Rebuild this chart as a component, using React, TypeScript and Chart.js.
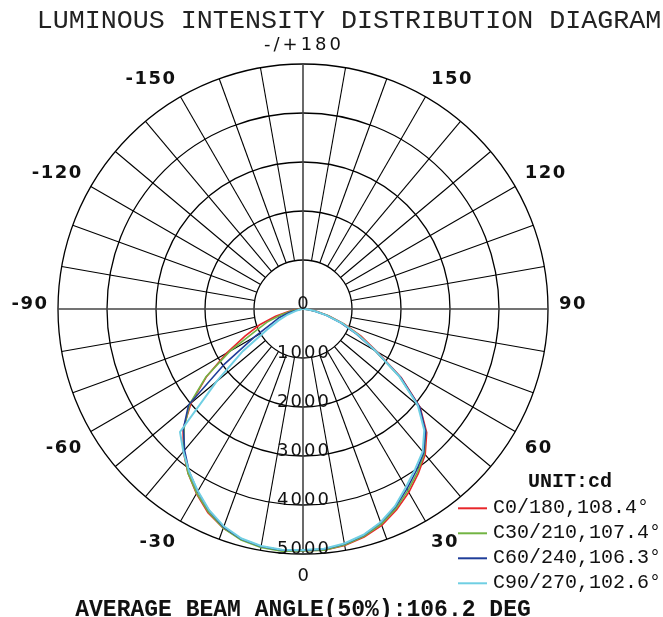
import React, { useEffect, useRef } from 'react';
import { Chart, registerables } from 'chart.js';

Chart.register(...registerables);

// gamma angles of each half plane (degrees from nadir)
const halfAngles = [0, 5, 10, 15, 20, 25, 30, 35, 40, 45, 50, 55, 60, 65, 70, 75, 80, 85, 90];

// intensities (cd): right side = C0/C30/C60/C90, left side = C180/C210/C240/C270
const c0Right = [4930, 4940, 4900, 4820, 4700, 4520, 4320, 4100, 3880, 3570, 3120, 2450, 1750, 1300, 900, 550, 280, 100, 0];
const c180Left = [4930, 4940, 4920, 4860, 4760, 4590, 4350, 4090, 3800, 3460, 2980, 2400, 1800, 1300, 940, 580, 300, 130, 0];
const c30Right = [4940, 4940, 4890, 4800, 4670, 4490, 4280, 4070, 3850, 3540, 3080, 2400, 1700, 1250, 870, 520, 260, 90, 0];
const c210Left = [4950, 4960, 4940, 4880, 4760, 4570, 4340, 4090, 3790, 3430, 3020, 2420, 1720, 1080, 780, 470, 220, 80, 0];
const c60Right = [4930, 4920, 4870, 4780, 4640, 4460, 4240, 4030, 3830, 3540, 3110, 2430, 1700, 1200, 820, 480, 230, 80, 0];
const c240Left = [4930, 4940, 4920, 4860, 4740, 4540, 4300, 4050, 3760, 3450, 3050, 1950, 1150, 700, 520, 300, 120, 40, 0];
const c90Right = [4920, 4910, 4860, 4770, 4630, 4440, 4200, 3990, 3800, 3500, 3060, 2400, 1720, 1230, 850, 500, 240, 80, 0];
const c270Left = [4920, 4930, 4910, 4850, 4720, 4530, 4290, 4050, 3800, 3550, 2300, 1500, 850, 550, 330, 150, 60, 20, 0];

const seriesNames = ['C0/180,108.4°', 'C30/210,107.4°', 'C60/240,106.3°', 'C90/270,102.6°'];
const seriesColors = ['#e8262a', '#72b443', '#1f3d99', '#6fcfe3'];
const seriesRight = [c0Right, c30Right, c60Right, c90Right];
const seriesLeft = [c180Left, c210Left, c240Left, c270Left];

const ringTicks = [0, 1000, 2000, 3000, 4000, 5000];
const angleTickValues = [0, 30, 60, 90, 120, 150, 180, -150, -120, -90, -60, -30];
const angleTickLabels = ['0', '30', '60', '90', '120', '150', '-/+180', '-150', '-120', '-90', '-60', '-30'];

const titleText = 'LUMINOUS INTENSITY DISTRIBUTION DIAGRAM';
const unitText = 'UNIT:cd';
const footerText = 'AVERAGE BEAM ANGLE(50%):106.2 DEG';

// radar categories in drawing order: 0 at bottom, clockwise to -90 (left), 180 (top), 90 (right)
const radarAngles: number[] = Array.from({ length: 72 }, (_, i) => (i < 36 ? -5 * i : 360 - 5 * i));

function valueAt(right: number[], left: number[], g: number): number {
  const idx = halfAngles.indexOf(Math.abs(g));
  if (idx < 0) return 0;
  return g >= 0 ? right[idx] : left[idx];
}

const polarDecor = {
  id: 'polarDecor',
  beforeDatasetsDraw(chart: any) {
    const s = chart.scales.r;
    const ctx = chart.ctx;
    ctx.save();
    radarAngles.forEach((g, i) => {
      if (g % 10 !== 0) return;
      const axis = g % 90 === 0;
      const a = s.getPointPositionForValue(i, axis ? 0 : ringTicks[1]);
      const b = s.getPointPositionForValue(i, s.max);
      ctx.beginPath();
      ctx.moveTo(a.x, a.y);
      ctx.lineTo(b.x, b.y);
      ctx.lineWidth = axis ? 1.6 : 1.1;
      ctx.strokeStyle = axis ? '#444' : '#000';
      ctx.stroke();
    });
    ctx.restore();
  },
  afterDatasetsDraw(chart: any) {
    const s = chart.scales.r;
    const ctx = chart.ctx;
    ctx.save();
    ctx.fillStyle = '#111';

    // ring labels along the nadir axis
    ctx.font = '18px "DejaVu Sans"';
    (ctx as any).letterSpacing = '2px';
    ctx.textAlign = 'center';
    ctx.textBaseline = 'alphabetic';
    ringTicks.forEach((v) => {
      const p = s.getPointPositionForValue(0, v);
      ctx.fillText(String(v), p.x + 1, p.y);
    });

    // angle labels outside the outer ring
    angleTickValues.forEach((g, k) => {
      const i = radarAngles.indexOf(g);
      if (i < 0) return;
      const p = s.getPointPosition(i, s.drawingArea + 11);
      let deg = Math.round((s.getIndexAngle(i) * 180) / Math.PI) % 360;
      if (deg < 0) deg += 360;
      const label = angleTickLabels[k];
      const plain = label === '0' || label === '-/+180';
      ctx.font = plain ? '18px "DejaVu Sans"' : 'bold 18px "DejaVu Sans"';
      (ctx as any).letterSpacing = label === '-/+180' ? '3px' : '1.5px';
      let x = p.x;
      let y = p.y;
      if (deg === 0 || deg === 180) {
        ctx.textAlign = 'center';
        x += 1;
      } else if (deg < 180) {
        ctx.textAlign = 'left';
      } else {
        ctx.textAlign = 'right';
        x += 1.5;
      }
      if (deg === 90 || deg === 270) {
        y = p.y;
      } else if (deg > 270 || deg < 90) {
        y = p.y - 3;
      } else {
        y = p.y + 16;
      }
      ctx.textBaseline = 'alphabetic';
      ctx.fillText(label, x, y);
    });

    (ctx as any).letterSpacing = '0px';
    // title
    ctx.fillStyle = '#222';
    ctx.font = '26.7px "Liberation Mono"';
    ctx.textAlign = 'center';
    ctx.fillText(titleText, 349, 28);

    // footer
    ctx.fillStyle = '#111';
    ctx.font = 'bold 23px "Liberation Mono"';
    ctx.textAlign = 'center';
    ctx.fillText(footerText, s.xCenter, 615.5);

    // legend
    ctx.textAlign = 'left';
    ctx.font = 'bold 20px "Liberation Mono"';
    ctx.fillText(unitText, 528, 486.5);
    ctx.font = '20px "Liberation Mono"';
    seriesNames.forEach((name, k) => {
      const yy = 508.3 + k * 25;
      ctx.beginPath();
      ctx.moveTo(458, yy);
      ctx.lineTo(487, yy);
      ctx.lineWidth = 2;
      ctx.strokeStyle = seriesColors[k];
      ctx.stroke();
      ctx.fillStyle = '#111';
      ctx.fillText(name, 493, yy + 4.5);
    });
    ctx.restore();
  },
};

export default function App() {
  const ref = useRef<HTMLCanvasElement>(null);
  useEffect(() => {
    if (!ref.current) return;
    const datasets = seriesNames.map((name, k) => ({
      label: name,
      data: radarAngles.map((g) => valueAt(seriesRight[k], seriesLeft[k], g)),
      borderColor: seriesColors[k],
      backgroundColor: seriesColors[k],
      borderWidth: k === 3 ? 2 : 1.6,
      fill: false,
      pointRadius: 0,
      tension: 0,
      order: 3 - k,
    }));
    const chart = new Chart(ref.current, {
      type: 'radar',
      data: { labels: radarAngles.map(String), datasets },
      options: {
        responsive: false,
        animation: false,
        devicePixelRatio: 1,
        layout: { padding: { left: 58, top: 64, right: 115, bottom: 63 } },
        plugins: {
          legend: { display: false },
          tooltip: { enabled: false },
          title: { display: false },
        },
        elements: { point: { radius: 0 }, line: { tension: 0 } },
        scales: {
          r: {
            min: 0,
            max: 5000,
            startAngle: 180,
            ticks: { display: false, stepSize: 1000 },
            grid: { circular: true, color: '#000', lineWidth: 1.3 },
            angleLines: { display: false },
            pointLabels: { display: false },
          },
        },
      },
      plugins: [polarDecor],
    } as any);
    return () => chart.destroy();
  }, []);
  return (
    <div style={{ position: 'absolute', left: 0, top: 0, width: 663, height: 617, background: '#fff' }}>
      <canvas ref={ref} width={663} height={617} style={{ display: 'block' }} />
    </div>
  );
}
